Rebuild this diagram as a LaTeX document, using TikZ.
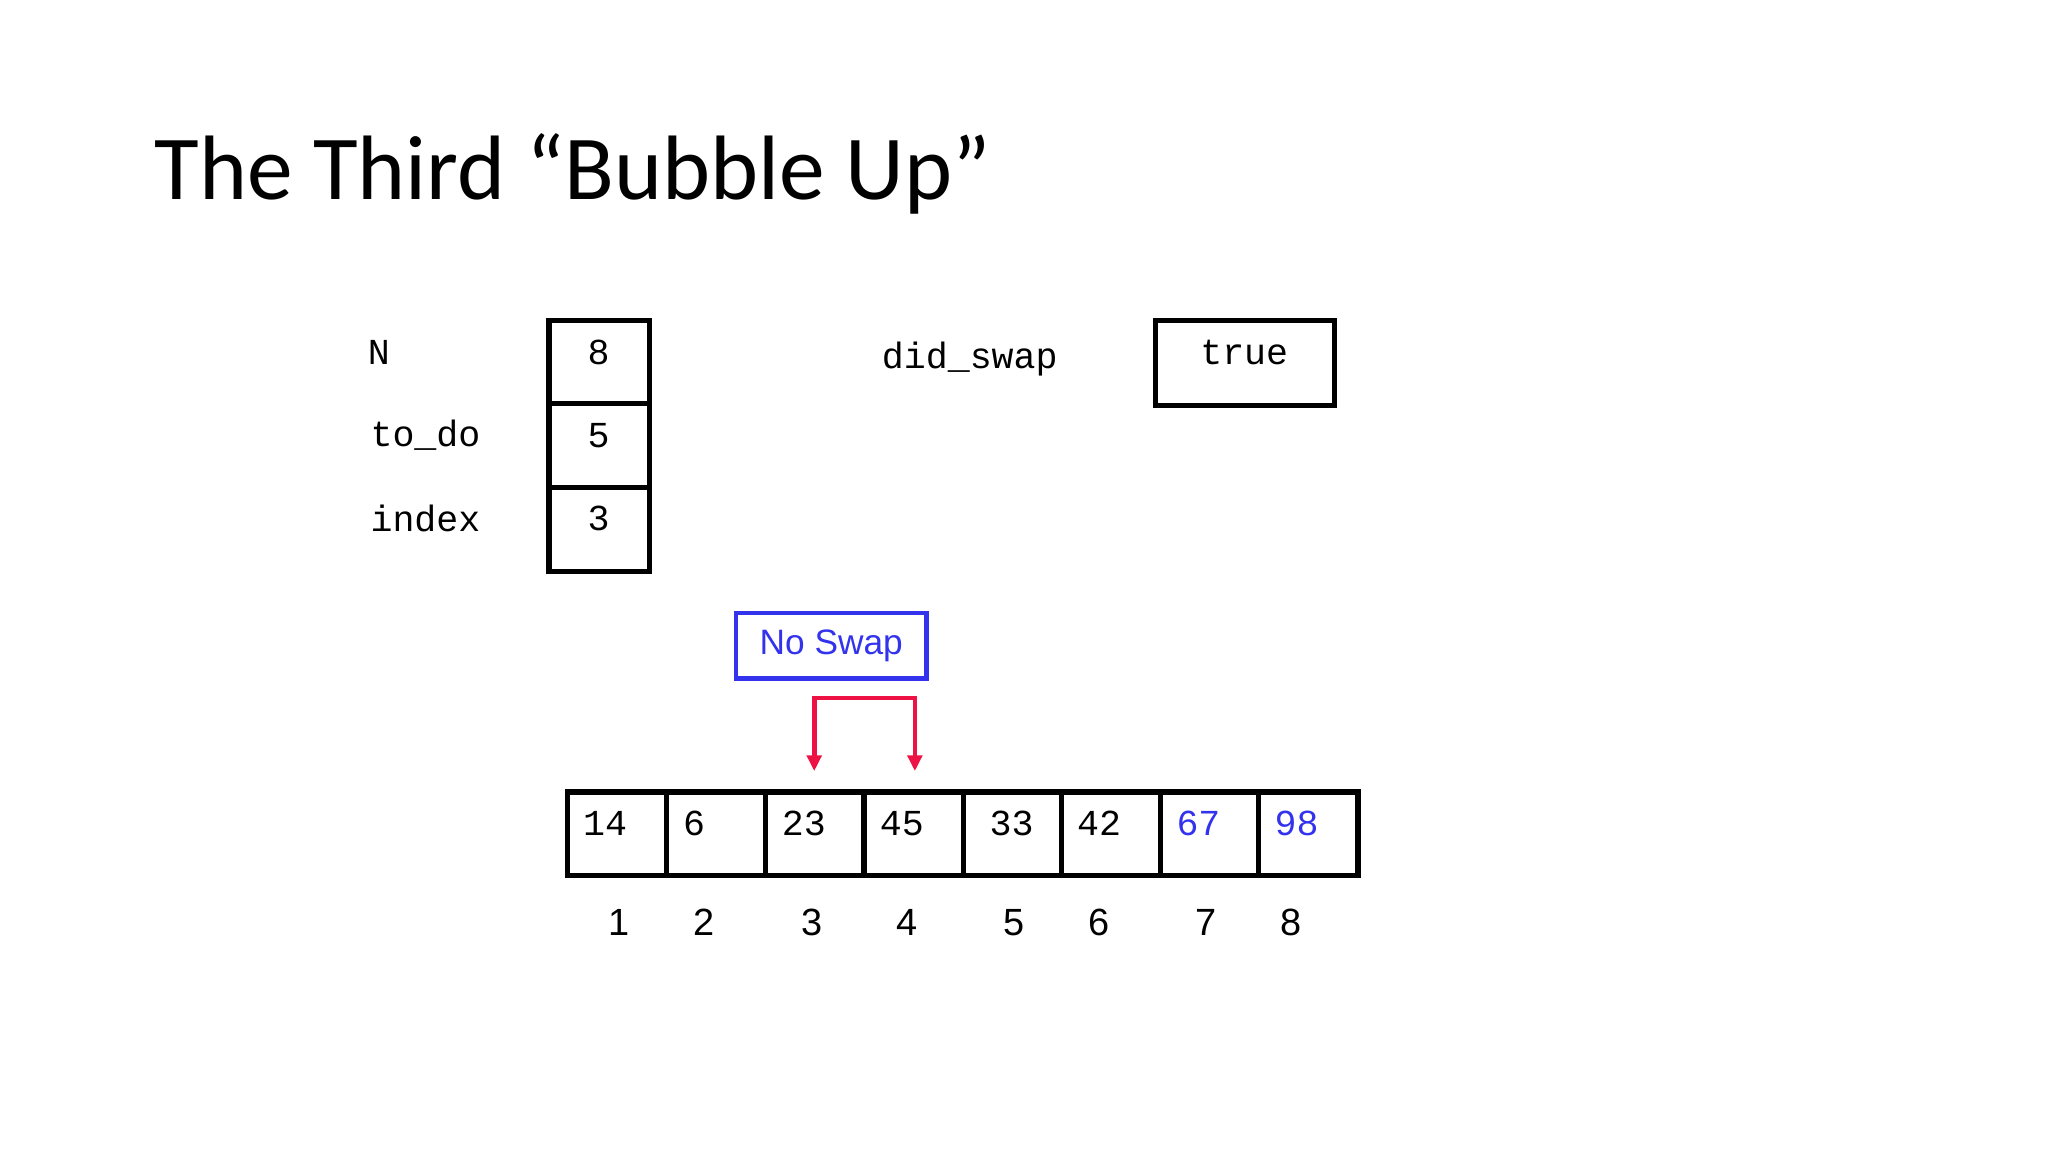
\documentclass[tikz,border=0pt]{standalone}
\usepackage{fontspec}
\setmainfont{Carlito}
\newfontfamily\monof{Liberation Mono}
\newfontfamily\arialf{Liberation Sans}
\usetikzlibrary{arrows.meta}
\definecolor{myblue}{RGB}{51,51,238}
\definecolor{myred}{RGB}{238,17,68}
\begin{document}
\begin{tikzpicture}[x=1pt,y=-1pt,
  cellbox/.style={draw=black,line width=4pt,inner sep=0pt},
  mono/.style={font=\monof\fontsize{28}{28}\selectfont},
  idx/.style={font=\arialf\fontsize{29}{29}\selectfont},
  lbl/.style={mono,anchor=west}]
\useasboundingbox (0,0) rectangle (1567,882);
\node[anchor=base west,font=\fontsize{70}{70}\selectfont,inner sep=0pt] (title) at (118,153) {The Third “Bubble Up”};
% variables
\node[lbl] (lN) at (278,270) {N};
\node[lbl] (ltodo) at (280,333) {to\_do};
\node[lbl] (lindex) at (280,397) {index};
\draw[cellbox] (420,245) rectangle (497,309);
\draw[cellbox] (420,309) rectangle (497,373);
\draw[cellbox] (420,373) rectangle (497,437);
\node[mono] (vN) at (458,270) {8};
\node[mono] (vtodo) at (458,333) {5};
\node[mono] (vindex) at (458,397) {3};
\node[mono] (ldid) at (742,275) {did\_swap};
\draw[cellbox] (884,245) rectangle (1021,310);
\node[mono] (vdid) at (952,270) {true};
% No swap
\node[draw=myblue,line width=3.5pt,minimum width=146pt,minimum height=50pt,text=myblue,font=\arialf\fontsize{27}{27}\selectfont] (ns) at (636,494) {No Swap};
% red arrows
\coordinate (a1) at (623,590);
\coordinate (a2) at (700,590);
\draw[myred,line width=3.5pt,-{Triangle[length=12pt,width=11pt]}] (623,534) -- (a1);
\draw[myred,line width=3.5pt,-{Triangle[length=12pt,width=11pt]}] (621.25,534) -- (700,534) -- (a2);
% array
\foreach \i/\a/\b in {1/434/510,2/510/586,3/586/661,4/661/737,5/737/812,6/812/888,7/888/963,8/963/1039}{
  \draw[cellbox] (\a,606) rectangle (\b,670);
}
\foreach \v/\x/\c [count=\k] in {14/463/black,6/531/black,23/615/black,45/690/black,33/774/black,42/841/black,67/917/myblue,98/992/myblue}{
  \node[mono,text=\c] (v\k) at (\x,630) {\v};
}
\foreach \x [count=\k] in {474,539,621,694,776,841,923,988}{
  \node[idx] (i\k) at (\x,706) {\k};
}
\end{tikzpicture}
\end{document}
